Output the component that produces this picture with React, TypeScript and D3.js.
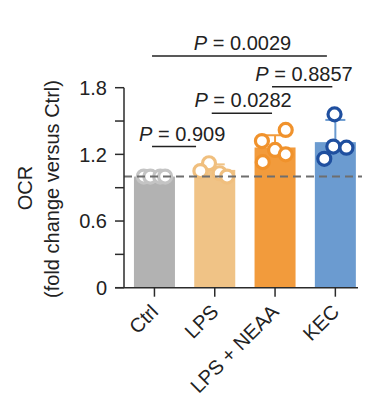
import React from 'react'
import * as d3 from 'd3'

const categories = ['Ctrl', 'LPS', 'LPS + NEAA', 'KEC']
const means = [1.0, 1.06, 1.262, 1.31]
const errors = [0, 0.05, 0.11, 0.2]
const points = [
  [1.0, 1.0, 1.0, 1.0],
  [1.12, 1.05, 1.03, 1.0],
  [1.32, 1.42, 1.24, 1.2, 1.13],
  [1.56, 1.27, 1.26, 1.16],
]
// horizontal jitter of the dots, as a fraction of the bar width
const jitter = [
  [-0.26, -0.1, 0.14, 0.26],
  [-0.14, -0.35, 0.12, 0.3],
  [-0.32, 0.26, 0, 0.26, -0.3],
  [-0.02, -0.05, 0.27, -0.27],
]
const barColors = ['#b2b2b2', '#f0c386', '#f29b3c', '#6b9bd0']
const dotColors = ['#c4c4c4', '#f0bf7e', '#f0922c', '#1f4f9f']
const yTicks = [0, 0.3, 0.6, 0.9, 1.2, 1.5, 1.8]
const yLabelTicks = [0, 0.6, 1.2, 1.8]
const refLine = 1.0

// comparisons: from / to in category index units, label position, p value
const comparisons = [
  { from: -0.04, to: 0.69, text: 0.46, p: '0.909', level: 0 },
  { from: 0.95, to: 1.95, text: 1.47, p: '0.0282', level: 1 },
  { from: 1.95, to: 2.95, text: 2.48, p: '0.8857', level: 2 },
  { from: -0.04, to: 2.86, text: 1.46, p: '0.0029', level: 3 },
]
const compY = [146.5, 113.3, 86.7, 56]

const W = 370
const H = 414
const font = '"Liberation Sans", Arial, Helvetica, sans-serif'
const fs = 20

export default function App() {
  const x = d3
    .scaleBand<string>()
    .domain(categories)
    .range([124.3, 365.5])
    .paddingInner(0.32)
    .paddingOuter(0.16)
  const y = d3.scaleLinear().domain([0, 1.8]).range([287.7, 87.7])
  const idx = d3
    .scaleLinear()
    .domain([0, 1])
    .range([x(categories[0])! + x.bandwidth() / 2, x(categories[1])! + x.bandwidth() / 2])

  const bw = x.bandwidth()
  const axisColor = '#2b2b2b'

  return (
    <svg
      width={W}
      height={H}
      style={{ position: 'absolute', left: 0, top: 0, background: '#fff' }}
      fontFamily={font}
    >
      {/* bars */}
      {categories.map((c, i) => (
        <rect
          key={c}
          x={x(c)}
          y={y(means[i])}
          width={bw}
          height={y(0) - y(means[i])}
          fill={barColors[i]}
        />
      ))}
      {/* error bars */}
      {categories.map((c, i) =>
        errors[i] > 0 ? (
          <g key={c} stroke={barColors[i]} strokeWidth={2}>
            <line
              x1={x(c)! + bw / 2}
              x2={x(c)! + bw / 2}
              y1={y(means[i])}
              y2={y(means[i] + errors[i])}
            />
            <line
              x1={x(c)! + bw / 2 - 10}
              x2={x(c)! + bw / 2 + 10}
              y1={y(means[i] + errors[i])}
              y2={y(means[i] + errors[i])}
            />
          </g>
        ) : null
      )}
      {/* dots */}
      {categories.map((c, i) =>
        points[i].map((v, j) => (
          <circle
            key={c + j}
            cx={x(c)! + bw / 2 + jitter[i][j] * bw}
            cy={y(v)}
            r={6.5}
            fill="#fff"
            stroke={dotColors[i]}
            strokeWidth={3.2}
          />
        ))
      )}
      {/* reference line */}
      <line
        x1={124}
        x2={362}
        y1={y(refLine)}
        y2={y(refLine)}
        stroke="#6e6e6e"
        strokeWidth={2}
        strokeDasharray="8,5"
      />
      {/* y axis */}
      <line x1={124} x2={124} y1={y(1.8)} y2={y(0)} stroke={axisColor} strokeWidth={1.5} />
      {yTicks.map((t) => (
        <g key={t}>
          <line x1={115} x2={124} y1={y(t)} y2={y(t)} stroke={axisColor} strokeWidth={1.5} />
          {yLabelTicks.includes(t) && (
            <text x={107} y={y(t)} dy="0.36em" textAnchor="end" fontSize={fs} fill="#222">
              {t === 0 ? '0' : t.toFixed(1)}
            </text>
          )}
        </g>
      ))}
      <text
        transform={`translate(32,188) rotate(-90)`}
        textAnchor="middle"
        fontSize={fs}
        fill="#222"
      >
        OCR
      </text>
      <text
        transform={`translate(59,189) rotate(-90)`}
        textAnchor="middle"
        fontSize={fs}
        fill="#222"
      >
        (fold change versus Ctrl)
      </text>
      {/* x axis */}
      <line x1={115} x2={358} y1={y(0)} y2={y(0)} stroke={axisColor} strokeWidth={1.5} />
      {categories.map((c) => {
        const cx = x(c)! + bw / 2
        return (
          <g key={c}>
            <line x1={cx} x2={cx} y1={y(0)} y2={y(0) + 9} stroke={axisColor} strokeWidth={1.5} />
            <text
              transform={`translate(${cx + 5},313) rotate(-45)`}
              textAnchor="end"
              fontSize={fs}
              fill="#222"
            >
              {c}
            </text>
          </g>
        )
      })}
      {/* significance */}
      {comparisons.map((cmp) => (
        <g key={cmp.p}>
          <line
            x1={idx(cmp.from)}
            x2={idx(cmp.to)}
            y1={compY[cmp.level]}
            y2={compY[cmp.level]}
            stroke="#222"
            strokeWidth={1.5}
          />
          <text
            x={idx(cmp.text)}
            y={compY[cmp.level] - 6}
            textAnchor="middle"
            fontSize={fs}
            fill="#222"
          >
            <tspan fontStyle="italic">P</tspan> = {cmp.p}
          </text>
        </g>
      ))}
    </svg>
  )
}
